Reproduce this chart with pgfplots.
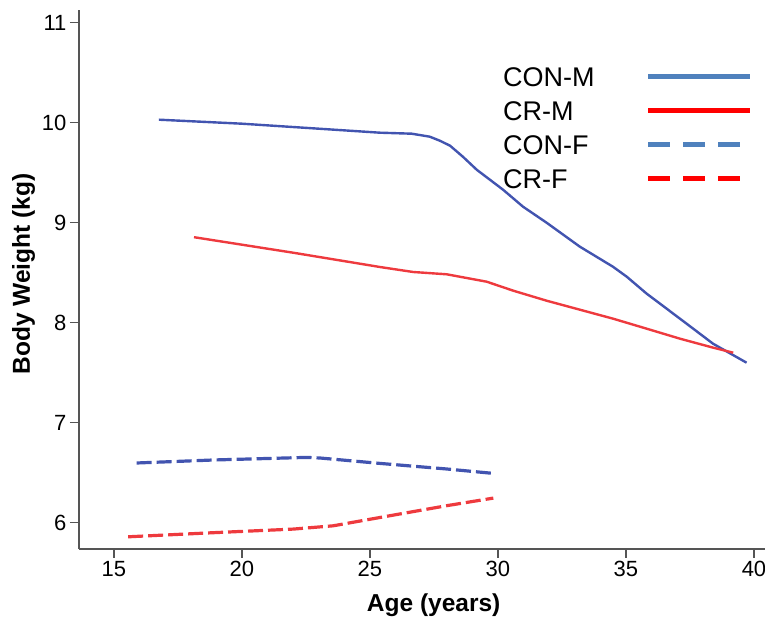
\documentclass[border=0pt]{standalone}
\usepackage{fontspec}
\setmainfont{Liberation Sans}
\usepackage{pgfplots}
\pgfplotsset{compat=1.18}

\definecolor{lnblue}{RGB}{66,84,176}
\definecolor{lnred}{RGB}{238,58,62}
\definecolor{lgblue}{RGB}{79,129,189}
\definecolor{lgred}{RGB}{255,0,0}
\definecolor{axgray}{RGB}{85,85,85}

\begin{document}
\begin{tikzpicture}
\begin{axis}[
  at={(79pt,71pt)}, anchor=south west,
  scale only axis, width=686pt, height=539pt,
  xmin=13.64, xmax=40.43, ymin=5.737, ymax=11.127,
  axis x line*=bottom, axis y line*=left,
  axis line style={draw=axgray, line width=1.6pt, -},
  every tick/.style={draw=axgray, line width=1.6pt},
  tick align=outside, major tick length=9pt,
  xtick={15,20,...,40}, ytick={6,7,...,11},
  /pgf/number format/assume math mode=true,
  ticklabel style={font=\fontsize{22}{22}\selectfont},
  xlabel={\textbf{Age (years)}}, ylabel={\textbf{Body Weight (kg)}},
  label style={font=\fontsize{24.5}{25}\selectfont},
  xlabel style={at={(ticklabel cs:0.517)}, yshift=-10pt},
  ylabel style={at={(ticklabel cs:0.51)}},
  legend cell align=left, legend plot pos=right,
  legend style={draw=none, fill=none, at={(rel axis cs:0.6166,0.898)}, anchor=north west,
    inner sep=0pt, row sep=12pt, column sep=50pt,
    font=\fontsize{27}{30}\selectfont,
    nodes={inner sep=1pt, text height=20pt, text depth=0pt}},
]
% CON-M
\addplot[lnblue, line width=2.4pt, forget plot] coordinates {
(16.76,10.03) (20.0,9.99) (23.0,9.94) (25.39,9.90) (26.63,9.89) (27.34,9.86)
(27.73,9.82) (28.13,9.77) (28.63,9.66) (29.17,9.53) (30.20,9.33) (30.98,9.16)
(31.90,9.00) (33.20,8.76) (34.49,8.56) (35.03,8.46) (35.81,8.29) (37.11,8.04)
(38.40,7.79) (39.71,7.60)
};
% CR-M
\addplot[lnred, line width=2.4pt, forget plot] coordinates {
(18.13,8.855) (22.0,8.70) (25.39,8.557) (26.69,8.507) (28.0,8.484) (29.56,8.41)
(30.60,8.32) (31.90,8.22) (33.20,8.13) (34.50,8.04) (35.81,7.94) (37.11,7.84)
(38.41,7.75) (39.19,7.70)
};
% CON-F
\addplot[lnblue, line width=3.2pt, dash pattern=on 15pt off 5pt, forget plot] coordinates {
(15.89,6.597) (18.88,6.627) (22.53,6.653) (23.05,6.647) (25.39,6.593) (28.0,6.537) (29.82,6.493)
};
% CR-F
\addplot[lnred, line width=3.2pt, dash pattern=on 15pt off 5pt, forget plot] coordinates {
(15.56,5.859) (18.88,5.90) (22.0,5.936) (23.57,5.969) (25.39,6.052) (28.0,6.17) (29.82,6.246)
};

\addlegendimage{legend image code/.code={\draw[lgblue, line width=5pt] (0pt,0pt) -- (102pt,0pt);}}
\addlegendentry{CON-M}
\addlegendimage{legend image code/.code={\draw[lgred, line width=5pt] (0pt,0pt) -- (102pt,0pt);}}
\addlegendentry{CR-M}
\addlegendimage{legend image code/.code={\draw[lgblue, line width=5pt, dash pattern=on 22pt off 13pt] (0pt,0pt) -- (93pt,0pt);}}
\addlegendentry{CON-F}
\addlegendimage{legend image code/.code={\draw[lgred, line width=5pt, dash pattern=on 22pt off 13pt] (0pt,0pt) -- (93pt,0pt);}}
\addlegendentry{CR-F}
\end{axis}
\pgfresetboundingbox
\path[use as bounding box] (0pt,0pt) rectangle (765pt,620pt);
\end{tikzpicture}
\end{document}
